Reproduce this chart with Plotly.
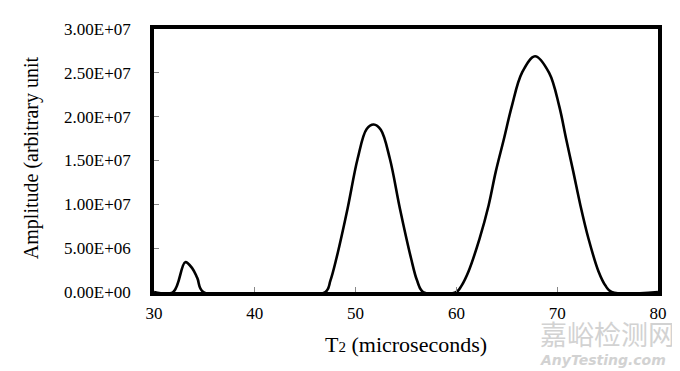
import plotly.graph_objects as go

# T2 (microseconds) and amplitude
t2 = [30.0, 31.9, 33.1, 33.8, 34.3, 34.9,
      47.0, 47.5, 48.1, 49.2, 50.2, 51.1, 51.8, 52.5, 53.4, 54.4, 55.5, 56.1, 56.7,
      60.0, 60.5, 61.2, 62.3, 63.2, 63.9, 64.7, 65.5, 66.5, 67.8, 69.2, 70.2, 70.9, 71.6, 72.3, 73.1, 74.1, 74.8, 75.4, 80.0]
amplitude = [0, 0, 3.4e6, 2.7e6, 1.58e6, 0,
             0, 1.3e6, 3.85e6, 9.5e6, 15.2e6, 18.6e6, 19.1e6, 18.5e6, 15.2e6, 9.5e6, 3.85e6, 1.3e6, 0,
             0, 0.7e6, 2.34e6, 6.1e6, 9.9e6, 13.7e6, 17.4e6, 21.2e6, 25.0e6, 26.9e6, 25.0e6, 21.2e6, 17.4e6, 13.7e6, 9.9e6, 6.1e6, 2.34e6, 0.7e6, 0, 0]

x_ticks = [30, 40, 50, 60, 70, 80]
y_ticks = [0, 5e6, 1e7, 1.5e7, 2e7, 2.5e7, 3e7]
y_tick_labels = ["0.00E+00", "5.00E+06", "1.00E+07", "1.50E+07", "2.00E+07", "2.50E+07", "3.00E+07"]

serif = "Liberation Serif, Times New Roman, serif"

fig = go.Figure()
fig.add_trace(go.Scatter(x=t2, y=amplitude, mode="lines",
                         line=dict(color="black", width=2.6, shape="spline", smoothing=1.0),
                         hoverinfo="skip", showlegend=False))

fig.update_layout(
    width=680, height=371,
    margin=dict(l=146, r=30, t=19, b=87),
    paper_bgcolor="white", plot_bgcolor="white",
    showlegend=False,
    font=dict(family=serif, color="black"),
    xaxis=dict(range=[30, 80], tickvals=x_ticks, ticks="inside", ticklen=5, tickwidth=1,
               tickcolor="#888888", showgrid=False, zeroline=False,
               showline=True, linecolor="black", linewidth=3.5, mirror=True,
               tickfont=dict(family=serif, size=17, color="black"), ticklabelstandoff=3),
    yaxis=dict(range=[0, 3e7], tickvals=y_ticks, ticktext=y_tick_labels, ticks="inside",
               ticklen=5, tickwidth=1, tickcolor="#888888", showgrid=False, zeroline=False,
               showline=True, linecolor="black", linewidth=3.5, mirror=True,
               tickfont=dict(family=serif, size=17, color="black"), ticklabelstandoff=16),
    annotations=[
        dict(text="Amplitude (arbitrary unit", xref="paper", yref="paper", x=0, y=0.509,
             xshift=-123, textangle=-90, showarrow=False, xanchor="center", yanchor="middle",
             font=dict(family=serif, size=20, color="black")),
        dict(text="T<span style='font-size:15px'>2</span> (microseconds)", xref="paper", yref="paper",
             x=0.5, y=0, yshift=-52, showarrow=False, xanchor="center", yanchor="middle",
             font=dict(family=serif, size=22, color="black")),
        dict(text="嘉峪检测网", xref="paper", yref="paper", x=0, y=0, xanchor="left", yanchor="middle",
             xshift=530 - 146, yshift=-(325 - 284), showarrow=False,
             font=dict(family="Noto Sans CJK SC", size=27, color="#d2d2d2")),
        dict(text="<i><b>AnyTesting.com</b></i>", xref="paper", yref="paper", x=0, y=0,
             xanchor="left", yanchor="middle", xshift=530 - 146, yshift=-(352 - 284), showarrow=False,
             font=dict(family="DejaVu Sans", size=14, color="#d2d2d2")),
    ],
)

fig.write_html("out.html")
